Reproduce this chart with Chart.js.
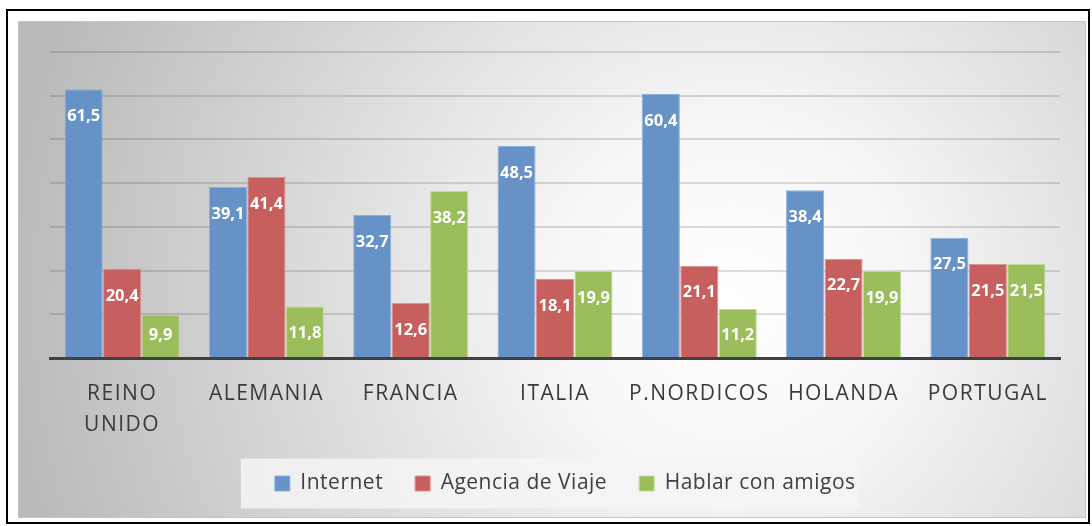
<!DOCTYPE html>
<html>
<head>
<meta charset="utf-8">
<script src="https://cdn.jsdelivr.net/npm/chart.js@4/dist/chart.umd.min.js"></script>
<style>
  html, body { margin: 0; padding: 0; background: #fff; }
  #wrap { width: 1092px; height: 526px; position: relative; }
</style>
</head>
<body>
<div id="wrap"><canvas id="chart" width="1092" height="526"></canvas></div>
<script>
const paises = [['REINO', 'UNIDO'], 'ALEMANIA', 'FRANCIA', 'ITALIA', 'P.NORDICOS', 'HOLANDA', 'PORTUGAL'];
const internet = [61.5, 39.1, 32.7, 48.5, 60.4, 38.4, 27.5];
const agencia = [20.4, 41.4, 12.6, 18.1, 21.1, 22.7, 21.5];
const amigos = [9.9, 11.8, 38.2, 19.9, 11.2, 19.9, 21.5];
const yMax = 70;
const yPaso = 10;

// fondo gris degradado + marco negro
const fondo = {
  id: 'fondo',
  afterLayout(chart) {
    const lg = chart.legend;
    if (lg && !lg._envuelto) {
      const dibujar = lg.draw.bind(lg);
      lg.draw = function () {
        const prev = chart.ctx.letterSpacing;
        chart.ctx.letterSpacing = '0.5px';
        dibujar();
        chart.ctx.letterSpacing = prev;
      };
      lg._envuelto = true;
    }
  },
  beforeDraw(chart) {
    const ctx = chart.ctx;
    ctx.save();
    ctx.fillStyle = '#fff';
    ctx.fillRect(0, 0, chart.width, chart.height);
    const g = ctx.createRadialGradient(730, 300, 0, 730, 300, 720);
    g.addColorStop(0, '#ffffff');
    g.addColorStop(0.25, '#f6f6f6');
    g.addColorStop(1, '#bababa');
    ctx.fillStyle = g;
    ctx.fillRect(18, 21, 1068, 497);
    ctx.strokeStyle = '#c4c4c4';
    ctx.lineWidth = 1;
    ctx.strokeRect(18.5, 21.5, 1067, 496);
    ctx.strokeStyle = '#000';
    ctx.lineWidth = 2;
    ctx.strokeRect(7, 10, 1082, 513);
    // caja de la leyenda
    const lg = chart.legend;
    if (lg && lg.legendHitBoxes && lg.legendHitBoxes.length) {
      const hb = lg.legendHitBoxes;
      const x0 = hb[0].left - 34;
      const x1 = hb[hb.length - 1].left + hb[hb.length - 1].width + 24;
      const yc = hb[0].top + hb[0].height / 2;
      ctx.fillStyle = 'rgba(245,245,245,0.85)';
      ctx.fillRect(x0, yc - 25, x1 - x0, 50);
    }
    ctx.restore();
    chart.ctx.letterSpacing = '1.5px';
  }
};

// etiquetas blancas dentro de las barras
const etiquetas = {
  id: 'etiquetas',
  afterDatasetsDraw(chart) {
    const ctx = chart.ctx;
    ctx.save();
    ctx.letterSpacing = '0px';
    ctx.font = 'bold 16.5px "Open Sans"';
    ctx.fillStyle = '#fff';
    ctx.textAlign = 'center';
    ctx.textBaseline = 'middle';
    chart.data.datasets.forEach((ds, i) => {
      chart.getDatasetMeta(i).data.forEach((bar, j) => {
        const y = Math.min(bar.y + 27, bar.base - 22);
        ctx.fillText(ds.data[j].toFixed(1).replace('.', ','), bar.x, y);
      });
    });
    ctx.restore();
  }
};

new Chart(document.getElementById('chart'), {
  type: 'bar',
  data: {
    labels: paises,
    datasets: [
      { label: 'Internet', data: internet, backgroundColor: '#6792c8', borderColor: '#8db0dc', borderWidth: 1 },
      { label: 'Agencia de Viaje', data: agencia, backgroundColor: '#c85f5f', borderColor: '#e09090', borderWidth: 1 },
      { label: 'Hablar con amigos', data: amigos, backgroundColor: '#9bbd5c', borderColor: '#c2dc98', borderWidth: 1 }
    ]
  },
  options: {
    responsive: false,
    animation: false,
    layout: { padding: { left: 50, right: 32, top: 52, bottom: 22 } },
    datasets: { bar: { categoryPercentage: 0.8, barPercentage: 0.99 } },
    plugins: {
      tooltip: { enabled: false },
      legend: {
        position: 'bottom',
        labels: {
          boxWidth: 15,
          boxHeight: 15,
          padding: 32,
          color: '#404040',
          font: { family: '"Open Sans"', size: 21 }
        }
      }
    },
    scales: {
      x: {
        grid: { display: false },
        border: { display: true, color: '#404040', width: 3 },
        ticks: {
          color: '#3a3a3a',
          padding: 12,
          maxRotation: 0,
          autoSkip: false,
          font: { family: '"Open Sans"', size: 21, lineHeight: 1.5 }
        },
        afterFit(s) { s.height = 83; }
      },
      y: {
        min: 0,
        max: yMax,
        ticks: { display: false, stepSize: yPaso },
        border: { display: false },
        grid: { color: 'rgba(0,0,0,0.13)', lineWidth: 2, drawTicks: false }
      }
    }
  },
  plugins: [fondo, etiquetas]
});
</script>
</body>
</html>
